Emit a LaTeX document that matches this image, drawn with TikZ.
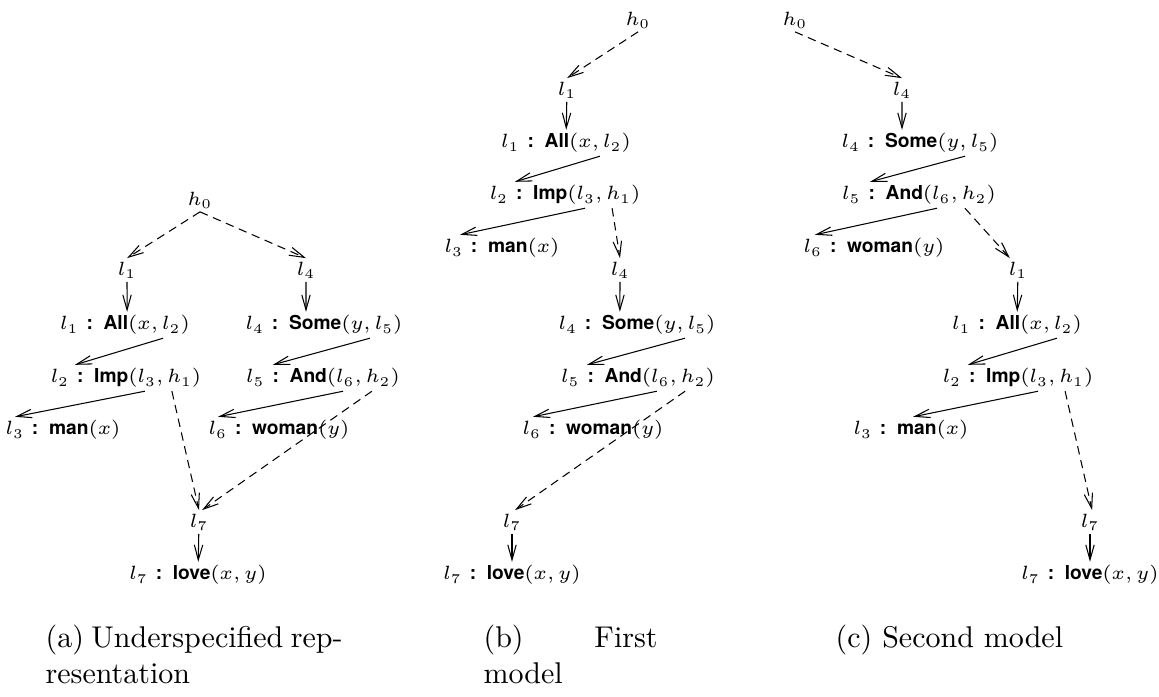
\RequirePackage{fix-cm}
\documentclass[tikz,border=0pt]{standalone}
\usepackage{fontspec}
\setsansfont{TeX Gyre Heros}
\usepackage{amsmath}
\usepackage{tikz}
\usetikzlibrary{arrows.meta}
\newcommand{\ep}[3]{$l_{#1}$ {\sffamily\bfseries :} {\sffamily\bfseries #2}$(#3)$}
\tikzset{hname/.style={
    % The shape:
    inner sep=1pt,
    % Font
    font=\fontsize{6.4}{8}\selectfont
    },
    epred/.style={
    inner sep=1pt,
    font=\fontsize{6.4}{8}\selectfont
    },
    dom/.style={
    -{Straight Barb[length=5pt,width=2.8pt]},
    line width=0.35pt,
    },
    hole/.style={
    -{Straight Barb[length=5pt,width=2.8pt]},
    line width=0.35pt,
    dash pattern=on 2.8pt off 1.9pt,
    },
    capt/.style={
    inner sep=0pt,
    anchor=base west,
    align=justify,
    font=\normalsize
    },
}

\begin{document}
\begin{tikzpicture}[x=0.3333pt,y=-0.3333pt]
    \useasboundingbox (0,0) rectangle (1159,696);

    % (a) underspecified
    \node (ah0)    [hname] at (200,200) {$h_0$};
    \node (al1)    [hname] at (127,270) {$l_1$};
    \node (al4)    [hname] at (306,270) {$l_4$};
    \node (aall)   [epred] at (125,325) {\ep{1}{All}{x,l_2}};
    \node (asome)  [epred] at (324,325) {\ep{4}{Some}{y,l_5}};
    \node (aimp)   [epred] at (126,378) {\ep{2}{Imp}{l_3,h_1}};
    \node (aand)   [epred] at (323,378) {\ep{5}{And}{l_6,h_2}};
    \node (aman)   [epred] at (63,430)  {\ep{3}{man}{x}};
    \node (awoman) [epred] at (279,430) {\ep{6}{woman}{y}};
    \node (al7)    [hname] at (199,522) {$l_7$};
    \node (alove)  [epred] at (198,575) {\ep{7}{love}{x,y}};
    \path (ah0.south) edge[hole] (al1.north)
          (ah0.south) edge[hole] (al4.north)
          (al1.south) edge[dom] ([xshift=0.7pt]aall.north)
          (al4.south) edge[dom] ([xshift=-6pt]asome.north)
          ([xshift=12.7pt]aall.south) edge[dom] ([xshift=-17pt]aimp.north)
          ([xshift=15.3pt]asome.south) edge[dom] ([xshift=-16.7pt]aand.north)
          ([xshift=6.3pt]aimp.south) edge[dom] ([xshift=-16pt]aman.north)
          ([xshift=6.7pt]aand.south) edge[dom] ([xshift=-20.3pt]awoman.north)
          ([xshift=15.3pt]aimp.south) edge[hole] (al7.north)
          ([xshift=16.3pt]aand.south) edge[hole] ([xshift=1pt]al7.north)
          (al7) edge[dom] (alove);

    % (b) first model
    \node (bh0)    [hname] at (638,20)  {$h_0$};
    \node (bl1)    [hname] at (567,90)  {$l_1$};
    \node (ball)   [epred] at (566,143) {\ep{1}{All}{x,l_2}};
    \node (bimp)   [epred] at (565,195) {\ep{2}{Imp}{l_3,h_1}};
    \node (bman)   [epred] at (502,248) {\ep{3}{man}{x}};
    \node (bl4)    [hname] at (620,270) {$l_4$};
    \node (bsome)  [epred] at (637,325) {\ep{4}{Some}{y,l_5}};
    \node (band)   [epred] at (638,378) {\ep{5}{And}{l_6,h_2}};
    \node (bwoman) [epred] at (593,430) {\ep{6}{woman}{y}};
    \node (bl7)    [hname] at (512,522) {$l_7$};
    \node (blove)  [epred] at (512,575) {\ep{7}{love}{x,y}};
    \path (bh0.south) edge[hole] (bl1.north)
          (bl1) edge[dom] (ball)
          ([xshift=11.3pt]ball.south) edge[dom] ([xshift=-16.7pt]bimp.north)
          ([xshift=6.7pt]bimp.south) edge[dom] ([xshift=-14pt]bman.north)
          ([xshift=15.7pt]bimp.south) edge[hole] (bl4.north)
          (bl4.south) edge[dom] ([xshift=-5.7pt]bsome.north)
          ([xshift=16pt]bsome.south) edge[dom] ([xshift=-17pt]band.north)
          ([xshift=6.3pt]band.south) edge[dom] ([xshift=-20pt]bwoman.north)
          ([xshift=15.7pt]band.south) edge[hole] ([xshift=1pt]bl7.north)
          (bl7) edge[dom] (blove);

    % (c) second model
    \node (ch0)    [hname] at (795,20)   {$h_0$};
    \node (cl4)    [hname] at (902,90)   {$l_4$};
    \node (csome)  [epred] at (920,143)  {\ep{4}{Some}{y,l_5}};
    \node (cand)   [epred] at (919,195)  {\ep{5}{And}{l_6,h_2}};
    \node (cwoman) [epred] at (874,248)  {\ep{6}{woman}{y}};
    \node (cl1)    [hname] at (1018,270) {$l_1$};
    \node (call)   [epred] at (1017,325) {\ep{1}{All}{x,l_2}};
    \node (cimp)   [epred] at (1018,378) {\ep{2}{Imp}{l_3,h_1}};
    \node (cman)   [epred] at (911,430)  {\ep{3}{man}{x}};
    \node (cl7)    [hname] at (1090,522) {$l_7$};
    \node (clove)  [epred] at (1090,575) {\ep{7}{love}{x,y}};
    \path (ch0.south) edge[hole] (cl4.north)
          (cl4.south) edge[dom] ([xshift=-6pt]csome.north)
          ([xshift=15pt]csome.south) edge[dom] ([xshift=-16.3pt]cand.north)
          ([xshift=6pt]cand.south) edge[dom] ([xshift=-19.7pt]cwoman.north)
          ([xshift=15.3pt]cand.south) edge[hole] ([xshift=-2.7pt]cl1.north)
          (cl1) edge[dom] (call)
          ([xshift=13.3pt]call.south) edge[dom] ([xshift=-16.7pt]cimp.north)
          ([xshift=6.7pt]cimp.south) edge[dom] ([xshift=0.7pt]cman.north)
          ([xshift=15.7pt]cimp.south) edge[hole] ([xshift=0.7pt]cl7.north)
          (cl7) edge[dom] (clove);

    % captions
    \node (capa) [capt,text width=99pt] at (45,647)
        {(a) Underspecified rep-\linebreak resentation};
    \node (capb) [capt,text width=58pt] at (483,647)
        {(b) First\linebreak model};
    \node (capc) [capt] at (835,647) {(c) Second model};
\end{tikzpicture}
\end{document}
